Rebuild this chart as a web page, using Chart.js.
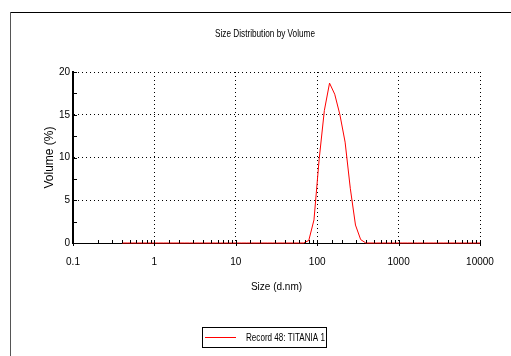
<!DOCTYPE html>
<html>
<head>
<meta charset="utf-8">
<script src="https://cdn.jsdelivr.net/npm/chart.js@4"></script>
<style>
  html, body { margin: 0; padding: 0; background: #fff; }
  #wrap { width: 511px; height: 356px; }
</style>
</head>
<body>
<div id="wrap"><canvas id="c" width="511" height="356"></canvas></div>
<script>
// size classes (d.nm)
const sizes = [0.4, 0.4632, 0.5365, 0.6213, 0.7195, 0.8332, 0.9649, 1.117, 1.294, 1.499,
    1.736, 2.01, 2.328, 2.696, 3.122, 3.615, 4.187, 4.849, 5.615, 6.503,
    7.531, 8.721, 10.1, 11.7, 13.54, 15.69, 18.17, 21.04, 24.36, 28.21,
    32.67, 37.84, 43.82, 50.75, 58.77, 68.06, 78.82, 91.28, 105.7, 122.4,
    141.8, 164.2, 190.1, 220.2, 255, 295.3, 342, 396.1, 458.7, 531.2,
    615.1, 712.4, 825, 955.4, 1106, 1281, 1484, 1718, 1990, 2305,
    2669, 3091, 3580, 4145, 4801, 5560, 6439, 7456, 8635, 10000];

// volume (%) per size class
const volumes = [0, 0, 0, 0, 0, 0, 0, 0, 0, 0,
    0, 0, 0, 0, 0, 0, 0, 0, 0, 0,
    0, 0, 0, 0, 0, 0, 0, 0, 0, 0,
    0, 0, 0, 0, 0, 0, 0.3, 2.7, 9.8, 15.5,
    18.7, 17.4, 15.0, 11.8, 6.4, 2.1, 0.4, 0, 0, 0,
    0, 0, 0, 0, 0, 0, 0, 0, 0, 0,
    0, 0, 0, 0, 0, 0, 0, 0, 0, 0];

const seriesName = "Record 48: TITANIA 1";
const chartTitle = "Size Distribution by Volume";
const yMarks = [0, 2.5, 5, 7.5, 10, 12.5, 15, 17.5, 20]; // tick marks on the y axis

const sans = "'Liberation Sans', Arial, sans-serif";

// frame, title, inner tick marks, legend box
const extras = {
    id: "extras",
    beforeDraw(chart) {
        const ctx = chart.ctx;
        ctx.save();
        ctx.fillStyle = "#fff";
        ctx.fillRect(0, 0, chart.width, chart.height);
        ctx.lineWidth = 1;
        ctx.strokeStyle = "#000";
        ctx.beginPath(); ctx.moveTo(10, 12.5); ctx.lineTo(511, 12.5); ctx.stroke();
        ctx.strokeStyle = "#555";
        ctx.beginPath(); ctx.moveTo(10.5, 12); ctx.lineTo(10.5, 356); ctx.stroke();
        ctx.fillStyle = "#000";
        ctx.font = "11px " + sans;
        ctx.textAlign = "center";
        ctx.textBaseline = "middle";
        ctx.fillText(chartTitle, 265, 34, 100); // squeezed like a narrow face
        ctx.restore();
    },
    afterDraw(chart) {
        const {ctx, chartArea: a, scales: {x, y}} = chart;
        ctx.save();
        ctx.strokeStyle = "#000";
        ctx.lineWidth = 1;
        for (const v of yMarks) {
            const py = Math.round(y.getPixelForValue(v)) + 0.5;
            ctx.beginPath(); ctx.moveTo(a.left, py); ctx.lineTo(a.left + 4, py); ctx.stroke();
        }
        for (const t of x.ticks) {
            const px = Math.round(x.getPixelForValue(t.value)) + 0.5;
            ctx.beginPath();
            if (t.major) { ctx.moveTo(px, a.bottom - 3); ctx.lineTo(px, a.bottom + 3); }
            else { ctx.moveTo(px, a.bottom - 3); ctx.lineTo(px, a.bottom); }
            ctx.stroke();
        }
        // legend
        ctx.strokeStyle = "#000";
        ctx.strokeRect(202.5, 327.5, 124, 20);
        ctx.strokeStyle = "#ff0000";
        ctx.beginPath(); ctx.moveTo(205, 337.5); ctx.lineTo(236, 337.5); ctx.stroke();
        ctx.fillStyle = "#000";
        ctx.font = "11px " + sans;
        ctx.textAlign = "left";
        ctx.textBaseline = "middle";
        ctx.fillText(seriesName, 246, 338, 79);
        ctx.restore();
    }
};

new Chart(document.getElementById("c"), {
    type: "scatter",
    data: {
        datasets: [{
            label: seriesName,
            data: sizes.map((s, i) => ({x: s, y: volumes[i]})),
            showLine: true,
            borderColor: "#ff0000",
            borderWidth: 1,
            pointRadius: 0,
            tension: 0,
            clip: 3,
        }],
    },
    options: {
        responsive: false,
        animation: false,
        events: [],
        layout: {padding: {left: 0, top: 72, right: 31, bottom: 53}},
        plugins: {legend: {display: false}, tooltip: {enabled: false}},
        scales: {
            x: {
                type: "logarithmic",
                min: 0.1, max: 10000,
                afterFit: s => { s.height = 60; },
                ticks: {
                    autoSkip: false, maxRotation: 0, padding: 13,
                    color: "#000", font: {size: 10, family: sans},
                    callback: (v, i, ticks) => ticks[i].major ? String(v) : "",
                },
                grid: {
                    drawTicks: false,
                    color: c => (c.tick && c.tick.major) ? "#000" : "rgba(0,0,0,0)",
                    lineWidth: 1,
                },
                border: {display: true, color: "#000", width: 1, dash: [1, 3]},
                title: {display: true, text: "Size (d.nm)", color: "#000",
                    font: {size: 10, family: sans}, padding: {top: 0, bottom: 10}},
            },
            y: {
                min: 0, max: 20,
                afterFit: s => { s.width = 73; },
                ticks: {stepSize: 5, padding: 3, color: "#000", font: {size: 10, family: sans}},
                grid: {drawTicks: false, color: "#000", lineWidth: 1},
                border: {display: true, color: "#000", width: 2, dash: [1, 3]},
                title: {display: true, text: "Volume (%)", color: "#000",
                    font: {size: 12, family: sans},
                    padding: {top: 42, bottom: 0}},
            },
        },
    },
    plugins: [extras],
});
</script>
</body>
</html>
